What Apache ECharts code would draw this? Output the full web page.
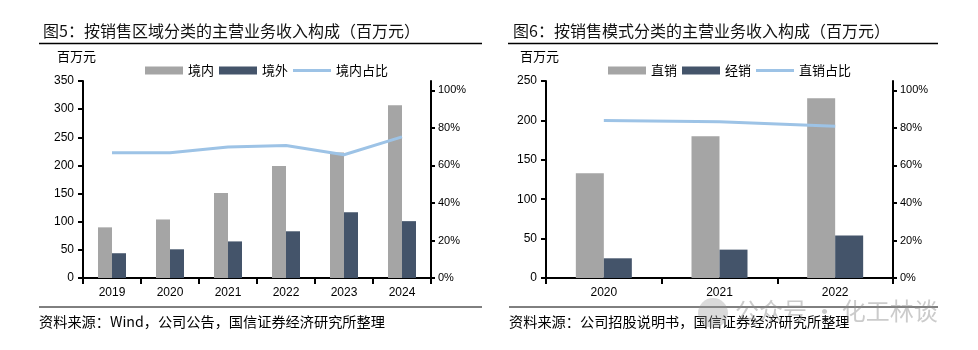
<!DOCTYPE html>
<html>
<head>
<meta charset="utf-8">
<script src="https://cdn.jsdelivr.net/npm/echarts@6/dist/echarts.min.js"></script>
<style>html,body{margin:0;padding:0;background:#fff;}#c{width:978px;height:350px;}</style>
</head>
<body>
<div id="c"></div>
<script>
// ---- data ----
const years1 = ['2019', '2020', '2021', '2022', '2023', '2024'];
const domestic = [90, 104, 151, 199, 223, 307];
const overseas = [44, 51, 65, 83, 117, 101];
const domesticShare = [66.8, 66.8, 69.8, 70.6, 65.7, 75.2];

const years2 = ['2020', '2021', '2022'];
const direct = [133, 180, 228];
const distribution = [25, 36, 54];
const directShare = [84.0, 83.3, 80.9];

const pctTicks = [0, 20, 40, 60, 80, 100];

const title1 = '图5：按销售区域分类的主营业务收入构成（百万元）';
const title2 = '图6：按销售模式分类的主营业务收入构成（百万元）';
const source1 = '资料来源：Wind，公司公告，国信证券经济研究所整理';
const source2 = '资料来源：公司招股说明书，国信证券经济研究所整理';
const unitLabel = '百万元';
const legend1 = ['境内', '境外', '境内占比'];
const legend2 = ['直销', '经销', '直销占比'];

// ---- styles ----
const GRAY = '#A5A5A5', DARK = '#44546A', LINE = '#9DC3E6';
const CJK = '"Noto Sans CJK SC", "Noto Sans", sans-serif';
const NUM = '"Liberation Sans", Arial, sans-serif';
const LINE_ICON = 'path://M0,0H38V3H0Z';

const chart = echarts.init(document.getElementById('c'), null, {renderer: 'canvas'});

function xAxisCfg(grid, data) {
  return {
    type: 'category', gridIndex: grid, data: data,
    axisLine: {lineStyle: {color: '#000', width: 2}},
    axisTick: {show: true, length: 6, lineStyle: {color: '#000', width: 2}},
    axisLabel: {color: '#000', fontSize: 12, fontFamily: NUM, margin: 9},
    splitLine: {show: false}
  };
}
function yLeft(grid, max) {
  return {
    type: 'value', gridIndex: grid, min: 0, max: max, interval: 50,
    axisLine: {show: true, lineStyle: {color: '#000', width: 2}},
    axisTick: {show: true, length: 5, lineStyle: {color: '#000', width: 2}},
    axisLabel: {color: '#000', fontSize: 12, fontFamily: NUM, margin: 9},
    splitLine: {show: false}
  };
}
function yRight(grid) {
  return {
    type: 'value', gridIndex: grid, min: 0, max: 105, position: 'right',
    axisLine: {show: true, lineStyle: {color: '#000', width: 2}},
    axisTick: {show: true, length: 4, customValues: pctTicks, lineStyle: {color: '#000', width: 2}},
    axisLabel: {color: '#000', fontSize: 11, fontFamily: NUM, margin: 7, customValues: pctTicks, formatter: '{value}%'},
    splitLine: {show: false}
  };
}
function legendCfg(left, names) {
  return {
    left: left, top: 59, itemWidth: 38, itemHeight: 8, itemGap: 5,
    textStyle: {fontFamily: CJK, fontSize: 13, color: '#000'},
    data: [
      {name: names[0], icon: 'rect'},
      {name: names[1], icon: 'rect'},
      {name: names[2], icon: LINE_ICON, itemStyle: {color: LINE}}
    ]
  };
}

const option = {
  animation: false,
  backgroundColor: '#fff',
  textStyle: {fontFamily: NUM},
  title: [
    {text: title1, left: 38, top: 18, textStyle: {fontFamily: CJK, fontSize: 16, fontWeight: 'normal', color: '#111'}},
    {text: title2, left: 508, top: 18, textStyle: {fontFamily: CJK, fontSize: 16, fontWeight: 'normal', color: '#111'}}
  ],
  legend: [legendCfg(140, legend1), legendCfg(603, legend2)],
  grid: [
    {left: 83, right: 547, top: 81, bottom: 72},
    {left: 546, right: 85, top: 81, bottom: 72}
  ],
  xAxis: [xAxisCfg(0, years1), xAxisCfg(1, years2)],
  yAxis: [yLeft(0, 350), yRight(0), yLeft(1, 250), yRight(1)],
  series: [
    {name: legend1[0], type: 'bar', xAxisIndex: 0, yAxisIndex: 0, data: domestic, barWidth: 14, barGap: '0%', itemStyle: {color: GRAY}},
    {name: legend1[1], type: 'bar', xAxisIndex: 0, yAxisIndex: 0, data: overseas, barWidth: 14, barGap: '0%', itemStyle: {color: DARK}},
    {name: legend1[2], type: 'line', xAxisIndex: 0, yAxisIndex: 1, data: domesticShare, symbol: 'none', showSymbol: false, z: 5,
     lineStyle: {color: LINE, width: 3}, itemStyle: {color: LINE}},
    {name: legend2[0], type: 'bar', xAxisIndex: 1, yAxisIndex: 2, data: direct, barWidth: 28, barGap: '0%', itemStyle: {color: GRAY}},
    {name: legend2[1], type: 'bar', xAxisIndex: 1, yAxisIndex: 2, data: distribution, barWidth: 28, barGap: '0%', itemStyle: {color: DARK}},
    {name: legend2[2], type: 'line', xAxisIndex: 1, yAxisIndex: 3, data: directShare, symbol: 'none', showSymbol: false, z: 5,
     lineStyle: {color: LINE, width: 3}, itemStyle: {color: LINE}}
  ],
  graphic: [
    {type: 'line', shape: {x1: 39, y1: 43.5, x2: 482, y2: 43.5}, style: {stroke: '#000', lineWidth: 1.5}},
    {type: 'line', shape: {x1: 508, y1: 43.5, x2: 938, y2: 43.5}, style: {stroke: '#000', lineWidth: 1.5}},
    {type: 'line', shape: {x1: 39, y1: 307, x2: 482, y2: 307}, style: {stroke: '#000', lineWidth: 1}},
    {type: 'line', shape: {x1: 509, y1: 307, x2: 938, y2: 307}, style: {stroke: '#000', lineWidth: 1}},
    {type: 'text', left: 57, top: 50, style: {text: unitLabel, font: '13px ' + CJK, fill: '#000'}},
    {type: 'text', left: 520, top: 50, style: {text: unitLabel, font: '13px ' + CJK, fill: '#000'}},
    {type: 'text', left: 39, top: 315, style: {text: source1, font: '14.2px ' + CJK, fill: '#000'}},
    {type: 'text', left: 509, top: 315, style: {text: source2, font: '14.2px ' + CJK, fill: '#000'}},
    {type: 'circle', shape: {cx: 713, cy: 313, r: 15}, style: {fill: 'rgba(150,150,150,0.35)'}, z: 100},
    {type: 'text', left: 735, top: 299, z: 100, style: {text: '公众号 · 化工林谈', font: '24px ' + CJK, fill: 'rgba(140,140,140,0.45)'}}
  ]
};
chart.setOption(option);
</script>
</body>
</html>
